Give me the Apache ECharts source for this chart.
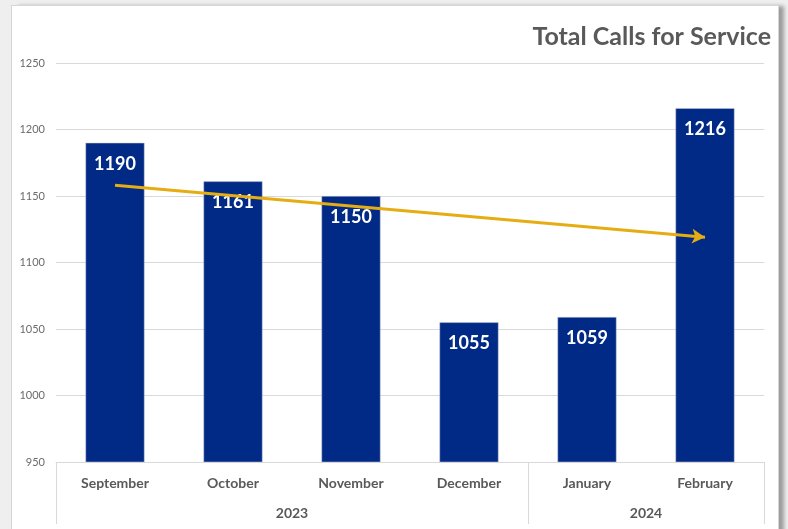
<!DOCTYPE html>
<html>
<head>
<meta charset="utf-8">
<script src="https://cdn.jsdelivr.net/npm/echarts@6/dist/echarts.min.js"></script>
<style>
html,body{margin:0;padding:0;background:#efefef;width:788px;height:529px;overflow:hidden;}
#frame{position:absolute;left:11px;top:5px;width:766px;height:530px;background:#fff;border:1px solid #d6d6d6;box-shadow:6px 0 4px -1px #9c9c9c;}
#chart{position:absolute;left:0;top:0;width:788px;height:529px;}
</style>
</head>
<body>
<div id="frame"></div>
<div id="chart"></div>
<script>
const months = ['September', 'October', 'November', 'December', 'January', 'February'];
const calls = [1190, 1161, 1150, 1055, 1059, 1216];
const years = ['2023', '2024'];
const yearCenters = [2, 5];
const yearBounds = [0, 4, 6];
const yTicks = [950, 1000, 1050, 1100, 1150, 1200, 1250];
const trendCategories = ['September', 'February'];
const trendValues = [1158, 1119];

const font = 'Lato';
const chart = echarts.init(document.getElementById('chart'), null, {renderer: 'canvas'});
chart.setOption({
  backgroundColor: 'transparent',
  animation: false,
  title: {
    text: 'Total Calls for Service',
    right: 12,
    top: 19,
    textStyle: {fontFamily: font, fontSize: 25, fontWeight: 'bold', color: '#595959'}
  },
  grid: {left: 56, right: 24, top: 63, bottom: 67},
  xAxis: [
    {
      type: 'category',
      data: months,
      position: 'bottom',
      axisLine: {show: true, lineStyle: {color: '#d9d9d9', width: 1}},
      axisTick: {show: false},
      axisLabel: {interval: 0, margin: 14, fontFamily: font, fontSize: 14, fontWeight: 'bold', color: '#595959'}
    },
    {
      type: 'value',
      min: yearBounds[0],
      max: yearBounds[yearBounds.length - 1],
      position: 'bottom',
      axisLine: {show: false},
      splitLine: {show: false},
      axisTick: {show: true, customValues: yearBounds, length: 62, lineStyle: {color: '#d9d9d9', width: 1}},
      axisLabel: {
        customValues: yearCenters,
        margin: 44,
        fontFamily: font, fontSize: 14, fontWeight: 'bold', color: '#595959',
        formatter: function (v) { return years[yearCenters.indexOf(v)] || ''; }
      }
    }
  ],
  yAxis: {
    type: 'value',
    min: yTicks[0],
    max: yTicks[yTicks.length - 1],
    interval: 50,
    axisLine: {show: false},
    axisTick: {show: false},
    splitLine: {lineStyle: {color: '#d9d9d9', width: 1}},
    axisLabel: {margin: 11, fontFamily: font, fontSize: 11, color: '#6b6b6b', formatter: function (v) { return String(v); }}
  },
  series: [{
    type: 'bar',
    xAxisIndex: 0,
    data: calls,
    barWidth: '50%',
    itemStyle: {color: '#012a86', borderColor: '#c8cbd6', borderWidth: 0.5},
    label: {
      show: true,
      position: 'insideTop',
      distance: 12,
      fontFamily: font, fontSize: 18, fontWeight: 'bold', color: '#ffffff'
    },
    markLine: {
      silent: true,
      symbol: ['none', 'arrow'],
      symbolSize: [11, 13],
      label: {show: false},
      lineStyle: {color: '#e6ad12', width: 3, type: 'solid'},
      data: [[
        {coord: [trendCategories[0], trendValues[0]]},
        {coord: [trendCategories[1], trendValues[1]]}
      ]]
    }
  }]
});
</script>
</body>
</html>
